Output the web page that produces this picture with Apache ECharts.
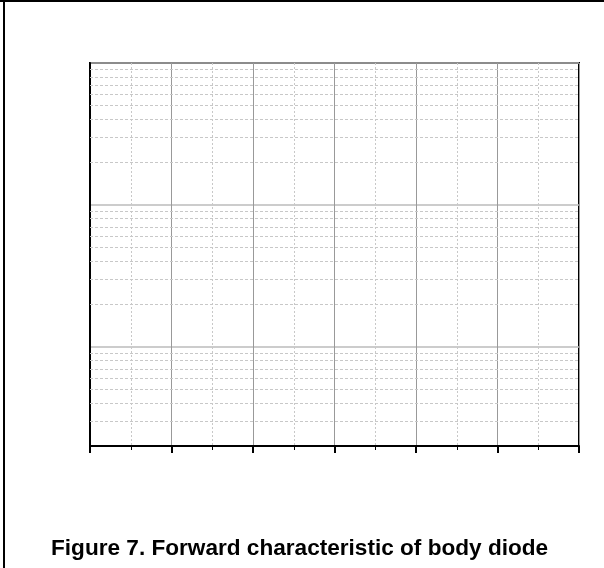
<!DOCTYPE html>
<html>
<head>
<meta charset="utf-8">
<script src="https://cdn.jsdelivr.net/npm/echarts@6/dist/echarts.min.js"></script>
<style>
    html, body { margin: 0; padding: 0; background: #fff; }
    #chart { width: 604px; height: 568px; }
</style>
</head>
<body>
<div id="chart"></div>
<script>
// 坐标范围 (图中没有刻度文字)
var xRange = [0, 6];
var yRange = [0.2, 100];
// 对数轴上的次网格线
var yMinor = [0.3, 0.4, 0.5, 0.6, 0.7, 0.8, 0.9,
              2, 3, 4, 5, 6, 7, 8, 9,
              20, 30, 40, 50, 60, 70, 80, 90];
// 曲线数据 (参考图里是空白的)
var diodeCurve = [];

(function () {
    var myChart = echarts.init(document.getElementById('chart'));

    var option = {
        animation: false,
        title: {
            text: 'Figure 7. Forward characteristic of body diode',
            left: 46,
            top: 532,
            textStyle: {
                fontFamily: 'Liberation Sans',
                fontWeight: 'bold',
                fontSize: 22.6,
                color: '#000'
            }
        },
        graphic: [
            { type: 'line', shape: { x1: 0, y1: 1, x2: 604, y2: 1 }, style: { stroke: '#000', lineWidth: 2 } },
            { type: 'line', shape: { x1: 4, y1: 0, x2: 4, y2: 568 }, style: { stroke: '#000', lineWidth: 2 } }
        ],
        grid: {
            left: 90,
            right: 25,
            top: 63,
            bottom: 122,
            show: true,
            borderColor: '#000',
            borderWidth: 2
        },
        xAxis: {
            type: 'value',
            min: xRange[0],
            max: xRange[1],
            interval: 1,
            axisLine: { lineStyle: { color: '#000', width: 2 } },
            axisTick: { show: true, inside: false, length: 7, lineStyle: { color: '#000', width: 2 } },
            minorTick: { show: true, splitNumber: 2, length: 4, lineStyle: { color: '#000', width: 1 } },
            axisLabel: { show: false },
            splitLine: { show: true, lineStyle: { color: '#999', width: 1 } },
            minorSplitLine: { show: true, lineStyle: { color: '#c8c8c8', width: 1, type: [2, 2] } }
        },
        yAxis: {
            type: 'log',
            logBase: 10,
            min: yRange[0],
            max: yRange[1],
            axisLine: { show: true, lineStyle: { color: '#000', width: 2 } },
            axisTick: { show: false },
            axisLabel: { show: false },
            splitLine: { show: true, lineStyle: { color: '#bbb', width: 1.5 } }
        },
        series: [
            {
                type: 'line',
                data: diodeCurve,
                showSymbol: false,
                markLine: {
                    silent: true,
                    symbol: 'none',
                    label: { show: false },
                    lineStyle: { color: '#c8c8c8', width: 1, type: [3, 2] },
                    data: yMinor.map(function (v) { return { yAxis: v }; })
                }
            }
        ]
    };

    myChart.setOption(option);
})();
</script>
</body>
</html>
